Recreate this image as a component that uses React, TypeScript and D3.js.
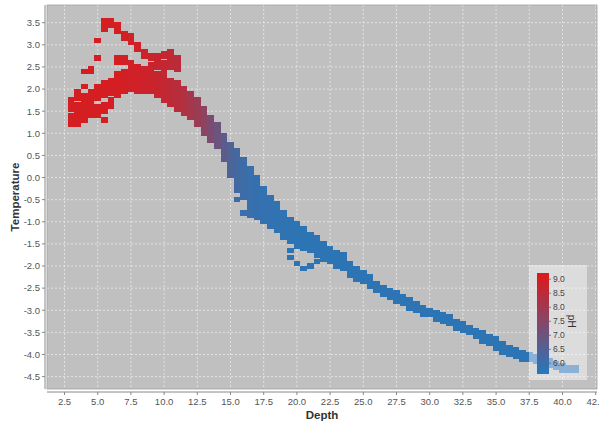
import * as d3 from "d3";

// each run: [depth, temperature top, temperature bottom, pH]
type Run = [number, number, number, number];

const redCluster: Run[] = [
  [3.0, 1.75, 1.55, 9.0],
  [3.0, 1.4, 1.2, 9.0],
  [3.5, 1.95, 1.8, 9.0],
  [3.5, 1.65, 1.2, 9.0],
  [4.0, 2.4, 2.4, 9.0],
  [4.0, 2.05, 2.05, 9.0],
  [4.0, 1.85, 1.3, 9.0],
  [4.5, 2.45, 2.4, 9.0],
  [4.5, 1.95, 1.4, 9.0],
  [5.0, 3.1, 3.1, 9.0],
  [5.0, 2.7, 2.7, 9.0],
  [5.0, 2.05, 1.8, 9.0],
  [5.0, 1.6, 1.4, 9.0],
  [5.5, 3.55, 3.35, 9.0],
  [5.5, 2.15, 1.85, 9.0],
  [5.5, 1.65, 1.5, 9.0],
  [5.5, 1.3, 1.3, 9.0],
  [6.0, 3.55, 3.45, 9.0],
  [6.0, 2.2, 1.9, 9.0],
  [6.0, 1.75, 1.6, 9.0],
  [6.5, 3.45, 3.3, 9.0],
  [6.5, 2.7, 2.6, 9.0],
  [6.5, 2.35, 1.85, 9.0],
  [7.0, 3.25, 3.15, 8.95],
  [7.0, 2.7, 2.6, 8.95],
  [7.0, 2.4, 1.95, 8.95],
  [7.5, 3.2, 3.05, 8.9],
  [7.5, 2.6, 2.55, 8.9],
  [7.5, 2.45, 2.0, 8.9],
  [8.0, 3.0, 2.9, 8.9],
  [8.0, 2.5, 1.95, 8.9],
  [8.5, 2.85, 2.75, 8.85],
  [8.5, 2.45, 1.95, 8.85],
  [9.0, 2.75, 2.7, 8.8],
  [9.0, 2.55, 1.95, 8.8],
  [9.5, 2.75, 2.5, 8.75],
  [9.5, 2.35, 1.85, 8.75],
  [10.0, 2.8, 2.75, 8.7],
  [10.0, 2.6, 1.75, 8.65],
  [10.5, 2.85, 2.5, 8.6],
  [10.5, 2.2, 1.65, 8.55],
  [11.0, 2.7, 2.45, 8.5],
  [11.0, 2.15, 1.55, 8.45],
];

const descent: Run[] = [
  [11.5, 2.0, 1.45, 8.3],
  [12.0, 1.9, 1.35, 8.1],
  [12.5, 1.75, 1.2, 7.9],
  [13.0, 1.55, 1.0, 7.6],
  [13.5, 1.35, 0.85, 7.3],
  [14.0, 1.2, 0.7, 7.0],
  [14.5, 0.95, 0.4, 6.7],
  [15.0, 0.75, 0.45, 6.45],
  [15.0, 0.35, 0.05, 6.4],
  [15.5, 0.6, 0.15, 6.25],
  [15.5, 0.05, -0.3, 6.2],
  [15.5, -0.5, -0.5, 6.1],
  [16.0, 0.4, -0.45, 6.1],
  [16.0, -0.8, -0.8, 6.0],
  [16.5, 0.2, -0.25, 6.0],
  [16.5, -0.35, -0.85, 6.0],
  [17.0, 0.0, -0.9, 5.95],
  [17.5, -0.25, -0.6, 5.9],
  [17.5, -0.7, -1.0, 5.9],
  [18.0, -0.45, -1.1, 5.9],
  [18.5, -0.6, -1.2, 5.85],
  [19.0, -0.8, -1.35, 5.85],
  [19.5, -0.95, -1.45, 5.85],
  [20.0, -1.05, -1.55, 5.8],
  [20.5, -1.15, -1.6, 5.8],
  [21.0, -1.3, -1.65, 5.8],
  [21.5, -1.35, -1.75, 5.8],
];

const loop: Run[] = [
  [19.5, -1.65, -1.65, 5.8],
  [19.5, -1.8, -1.8, 5.8],
  [20.0, -1.95, -1.95, 5.8],
  [20.5, -2.05, -2.05, 5.8],
  [21.0, -2.0, -2.0, 5.8],
  [21.5, -1.9, -1.9, 5.8],
];

const tail: Run[] = [
  [22.0, -1.5, -1.85, 5.8],
  [22.5, -1.6, -1.9, 5.8],
  [23.0, -1.7, -2.0, 5.8],
  [23.5, -1.75, -2.05, 5.8],
  [24.0, -1.95, -2.2, 5.8],
  [24.5, -2.05, -2.3, 5.8],
  [25.0, -2.15, -2.35, 5.8],
  [25.5, -2.25, -2.45, 5.8],
  [26.0, -2.4, -2.55, 5.8],
  [26.5, -2.5, -2.65, 5.8],
  [27.0, -2.55, -2.7, 5.8],
  [27.5, -2.6, -2.8, 5.8],
  [28.0, -2.7, -2.85, 5.8],
  [28.5, -2.75, -2.95, 5.8],
  [29.0, -2.85, -3.0, 5.8],
  [29.5, -2.95, -3.1, 5.8],
  [30.0, -3.0, -3.1, 5.8],
  [30.5, -3.05, -3.2, 5.8],
  [31.0, -3.1, -3.25, 5.8],
  [31.5, -3.15, -3.3, 5.8],
  [32.0, -3.25, -3.4, 5.8],
  [32.5, -3.3, -3.45, 5.8],
  [33.0, -3.4, -3.5, 5.8],
  [33.5, -3.45, -3.6, 5.8],
  [34.0, -3.5, -3.7, 5.8],
  [34.5, -3.6, -3.75, 5.8],
  [35.0, -3.65, -3.85, 5.8],
  [35.5, -3.75, -3.95, 5.8],
  [36.0, -3.85, -4.0, 5.8],
  [36.5, -3.9, -4.05, 5.8],
  [37.0, -3.95, -4.1, 5.8],
  [37.5, -4.0, -4.1, 5.8],
  [38.0, -4.05, -4.15, 5.8],
  [38.5, -4.1, -4.2, 5.8],
  [39.0, -4.15, -4.25, 5.8],
  [39.5, -4.2, -4.3, 5.8],
  [40.0, -4.25, -4.35, 5.8],
  [40.5, -4.3, -4.35, 5.8],
  [41.0, -4.3, -4.35, 5.8],
];

const xTicks = [2.5, 5.0, 7.5, 10.0, 12.5, 15.0, 17.5, 20.0, 22.5, 25.0, 27.5, 30.0, 32.5, 35.0, 37.5, 40.0, 42.5];
const yTicks = [-4.5, -4.0, -3.5, -3.0, -2.5, -2.0, -1.5, -1.0, -0.5, 0.0, 0.5, 1.0, 1.5, 2.0, 2.5, 3.0, 3.5];
const phTicks = [6.0, 6.5, 7.0, 7.5, 8.0, 8.5, 9.0];

const W = 599;
const H = 423;
const plotLeft = 47;
const plotRight = 597;
const plotTop = 5;
const plotBottom = 389;
const blockW = 0.5;
const blockH = 0.12;
const font = "'Liberation Sans', Arial, sans-serif";

const App = () => {
  const x = d3.scaleLinear().domain([1.18, 42.6]).range([plotLeft, plotRight]);
  const y = d3.scaleLinear().domain([-4.78, 3.9]).range([plotBottom, plotTop]);
  const color = d3
    .scaleLinear<string>()
    .domain([5.62, 9.22])
    .range(["#2479bd", "#e01818"])
    .interpolate(d3.interpolateRgb);

  // legend position
  const legX = 529;
  const legY = 265;
  const legW = 58;
  const legH = 115;
  const barX = 537;
  const barW = 12;
  const phScale = d3.scaleLinear().domain([5.62, 9.22]).range([374, 273]);
  const strips = d3.range(273, 374, 1);

  const runs = [...redCluster, ...descent, ...loop, ...tail];

  return (
    <div style={{ position: "absolute", left: 0, top: 0 }}>
      <svg width={W} height={H} viewBox={`0 0 ${W} ${H}`} style={{ display: "block", background: "#fff" }}>
        <defs>
          <clipPath id="plotClip">
            <rect x={plotLeft} y={plotTop} width={plotRight - plotLeft} height={plotBottom - plotTop} />
          </clipPath>
        </defs>
        <rect x={plotLeft} y={plotTop} width={plotRight - plotLeft} height={plotBottom - plotTop} fill="#c0c0c0" />

        {/* grid */}
        <g stroke="#f4f4f4" strokeWidth={0.8} strokeDasharray="2,2" opacity={0.85}>
          {xTicks.map((t) => (
            <line key={"gx" + t} x1={x(t)} x2={x(t)} y1={plotTop} y2={plotBottom} />
          ))}
          {yTicks.map((t) => (
            <line key={"gy" + t} x1={plotLeft} x2={plotRight} y1={y(t)} y2={y(t)} />
          ))}
        </g>

        {/* blocks */}
        <g clipPath="url(#plotClip)" shapeRendering="crispEdges">
          {runs.map((r, i) => {
            const x0 = x(r[0] - blockW / 2);
            const x1 = x(r[0] + blockW / 2);
            const y0 = y(r[1] + blockH / 2);
            const y1 = y(r[2] - blockH / 2);
            return <rect key={i} x={x0} y={y0} width={x1 - x0} height={y1 - y0} fill={color(r[3])} />;
          })}
        </g>

        <rect
          x={plotLeft}
          y={plotTop}
          width={plotRight - plotLeft}
          height={plotBottom - plotTop}
          fill="none"
          stroke="#a0a0a0"
          strokeWidth={0.8}
        />

        {/* y axis */}
        <line x1={45} x2={45} y1={plotTop} y2={plotBottom} stroke="#888" />
        {yTicks.map((t) => (
          <g key={"yt" + t}>
            <line x1={42} x2={45} y1={y(t)} y2={y(t)} stroke="#888" />
            <text
              x={40}
              y={y(t)}
              dy="0.35em"
              textAnchor="end"
              fontFamily={font}
              fontSize={9.5}
              fill="#555"
            >
              {t.toFixed(1)}
            </text>
          </g>
        ))}

        {/* x axis */}
        <line x1={plotLeft} x2={plotRight} y1={392} y2={392} stroke="#888" />
        {xTicks.map((t) => (
          <g key={"xt" + t}>
            <line x1={x(t)} x2={x(t)} y1={392} y2={395} stroke="#888" />
            <text x={x(t)} y={405} textAnchor="middle" fontFamily={font} fontSize={9.5} fill="#555">
              {t.toFixed(1)}
            </text>
          </g>
        ))}

        <text
          x={(plotLeft + plotRight) / 2}
          y={419}
          textAnchor="middle"
          fontFamily={font}
          fontSize={11.5}
          fontWeight="bold"
          fill="#333"
        >
          Depth
        </text>
        <text
          transform={`translate(19,${(plotTop + plotBottom) / 2}) rotate(-90)`}
          textAnchor="middle"
          fontFamily={font}
          fontSize={11.5}
          fontWeight="bold"
          fill="#333"
        >
          Temperature
        </text>

        {/* paint scale legend */}
        <rect x={legX} y={legY} width={legW} height={legH} fill="#ffffff" opacity={0.45} />
        <g shapeRendering="crispEdges">
          {strips.map((py) => (
            <rect key={"s" + py} x={barX} y={py} width={barW} height={1} fill={color(phScale.invert(py + 0.5))} />
          ))}
        </g>
        {phTicks.map((t) => (
          <g key={"pt" + t}>
            <line x1={barX + barW} x2={barX + barW + 2} y1={phScale(t)} y2={phScale(t)} stroke="#666" strokeWidth={0.8} />
            <text x={553} y={phScale(t)} dy="0.35em" fontFamily={font} fontSize={8.5} fill="#444">
              {t.toFixed(1)}
            </text>
          </g>
        ))}
        <text
          transform={`translate(568,${phScale(7.5)}) rotate(90)`}
          textAnchor="middle"
          fontFamily={font}
          fontSize={10}
          fill="#333"
        >
          pH
        </text>
      </svg>
    </div>
  );
};

export default App;
